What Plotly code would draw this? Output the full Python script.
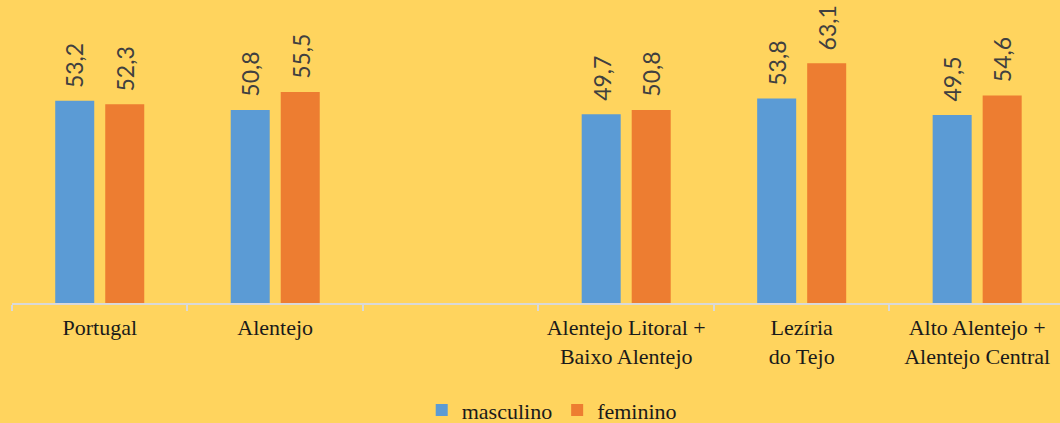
import plotly.graph_objects as go

categories = ["Portugal", "Alentejo", " ",
              "Alentejo Litoral +<br>Baixo Alentejo",
              "Lezíria<br>do Tejo",
              "Alto Alentejo +<br>Alentejo Central"]
masculino = [53.2, 50.8, None, 49.7, 53.8, 49.5]
feminino = [52.3, 55.5, None, 50.8, 63.1, 54.6]
series_names = ["masculino", "feminino"]
colors = ["#5B9BD5", "#ED7D31"]
BG = "#FFD45E"
SERIF = "'Liberation Serif', 'DejaVu Serif', serif"

def fmt(v):
    return f"{v:.1f}".replace(".", ",")

fig = go.Figure()
for name, vals, col in zip(series_names, [masculino, feminino], colors):
    fig.add_trace(go.Bar(
        x=categories, y=vals, name=name,
        marker=dict(color=col, line=dict(color=col, width=0)),
    ))

# value labels, rotated, above each bar (blue left, orange right of the group)
for vals, shift in zip([masculino, feminino], [-25, 25]):
    for cat, v in zip(categories, vals):
        if v is None:
            continue
        fig.add_annotation(x=cat, y=v, text=fmt(v), showarrow=False,
                           textangle=-90, xanchor="center", yanchor="bottom",
                           xshift=shift, yshift=11,
                           font=dict(family="Lato", size=23, color="#404040"))

fig.update_layout(
    width=1060, height=423,
    paper_bgcolor=BG, plot_bgcolor=BG,
    margin=dict(l=12, r=0, t=37, b=120),
    barmode="group", bargap=0.43, bargroupgap=0.22,
    showlegend=True,
    legend=dict(orientation="h", x=0.515, xanchor="center",
                yref="container", y=0.03, yanchor="middle",
                font=dict(family=SERIF, size=22, color="#1a1a1a"),
                bgcolor="rgba(0,0,0,0)", itemwidth=30),
    xaxis=dict(type="category", categoryorder="array", categoryarray=categories,
               range=[-0.5, 5.472], showline=True, linecolor="#d9d9d9", linewidth=2,
               ticks="outside", tickson="boundaries", ticklen=6, tickcolor="#d9d9d9",
               tickwidth=2, showgrid=False, ticklabelstandoff=4, automargin=False,
               tickfont=dict(family=SERIF, size=22, color="#1a1a1a")),
    yaxis=dict(range=[0, 70], visible=False, showgrid=False, zeroline=False),
)

fig.write_html("out.html", config={"displayModeBar": False},
               post_script="document.body.style.margin='0';document.body.style.background='" + BG + "';")
